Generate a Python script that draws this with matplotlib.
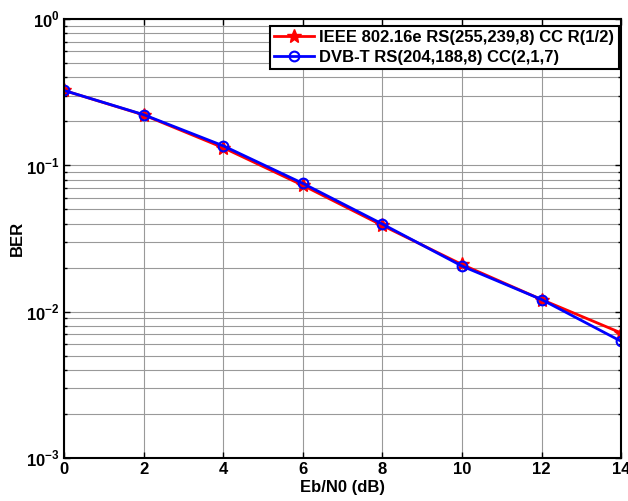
import matplotlib
matplotlib.use('Agg')
import matplotlib.pyplot as plt
from matplotlib.ticker import LogLocator, NullFormatter

plt.rcParams['font.family'] = 'Liberation Sans'
plt.rcParams['font.weight'] = 'bold'
plt.rcParams['mathtext.fontset'] = 'custom'
plt.rcParams['mathtext.rm'] = 'Liberation Sans:bold'
plt.rcParams['mathtext.bf'] = 'Liberation Sans:bold'

ebn0 = [0, 2, 4, 6, 8, 10, 12, 14]
ber_ieee = [0.325, 0.221, 0.132, 0.073, 0.0388, 0.0210, 0.0121, 0.00715]
ber_dvbt = [0.325, 0.222, 0.136, 0.0753, 0.0397, 0.0205, 0.0121, 0.00627]
labels = ['IEEE 802.16e RS(255,239,8) CC R(1/2)', 'DVB-T RS(204,188,8) CC(2,1,7)']

fig = plt.figure(figsize=(6.28, 5.01), dpi=100)
ax = fig.add_axes([0.102, 0.086, 0.887, 0.876])

ax.semilogy(ebn0, ber_ieee, '-*', color='red', lw=2, ms=10, label=labels[0])
ax.semilogy(ebn0, ber_dvbt, '-o', color='blue', lw=2, ms=7, mfc='none', mew=1.5, label=labels[1])

ax.set_xlim(0, 14)
ax.set_ylim(1e-3, 1)
ax.set_xticks(range(0, 15, 2))
ax.set_yticks([1e-3, 1e-2, 1e-1, 1])
ax.set_yticklabels([r'$10^{-3}$', r'$10^{-2}$', r'$10^{-1}$', r'$10^{0}$'])
ax.yaxis.set_minor_locator(LogLocator(base=10, subs=range(2, 10)))
ax.yaxis.set_minor_formatter(NullFormatter())

ax.grid(True, which='major', color='0.6', lw=0.8)
ax.grid(True, which='minor', axis='y', color='0.6', lw=0.8)
ax.tick_params(which='both', direction='in', top=True, right=True, labelsize=12, width=1)
ax.tick_params(which='major', length=4, pad=3)
ax.tick_params(which='minor', length=2)
for s in ax.spines.values():
    s.set_linewidth(1.5)
for lab in ax.get_xticklabels() + ax.get_yticklabels():
    lab.set_fontweight('bold')

ax.set_xlabel('Eb/N0 (dB)', fontsize=12, fontweight='bold', labelpad=2)
ax.set_ylabel('BER', fontsize=12, fontweight='bold', labelpad=1)

leg = ax.legend(loc='upper right', bbox_to_anchor=(0.9955, 0.985), fontsize=12, fancybox=False,
                framealpha=1, edgecolor='black', borderpad=0.25, handlelength=2.4,
                handletextpad=0.3, labelspacing=0.3, borderaxespad=0)
leg.get_frame().set_linewidth(1.5)

fig.savefig('out.png', dpi=100)
